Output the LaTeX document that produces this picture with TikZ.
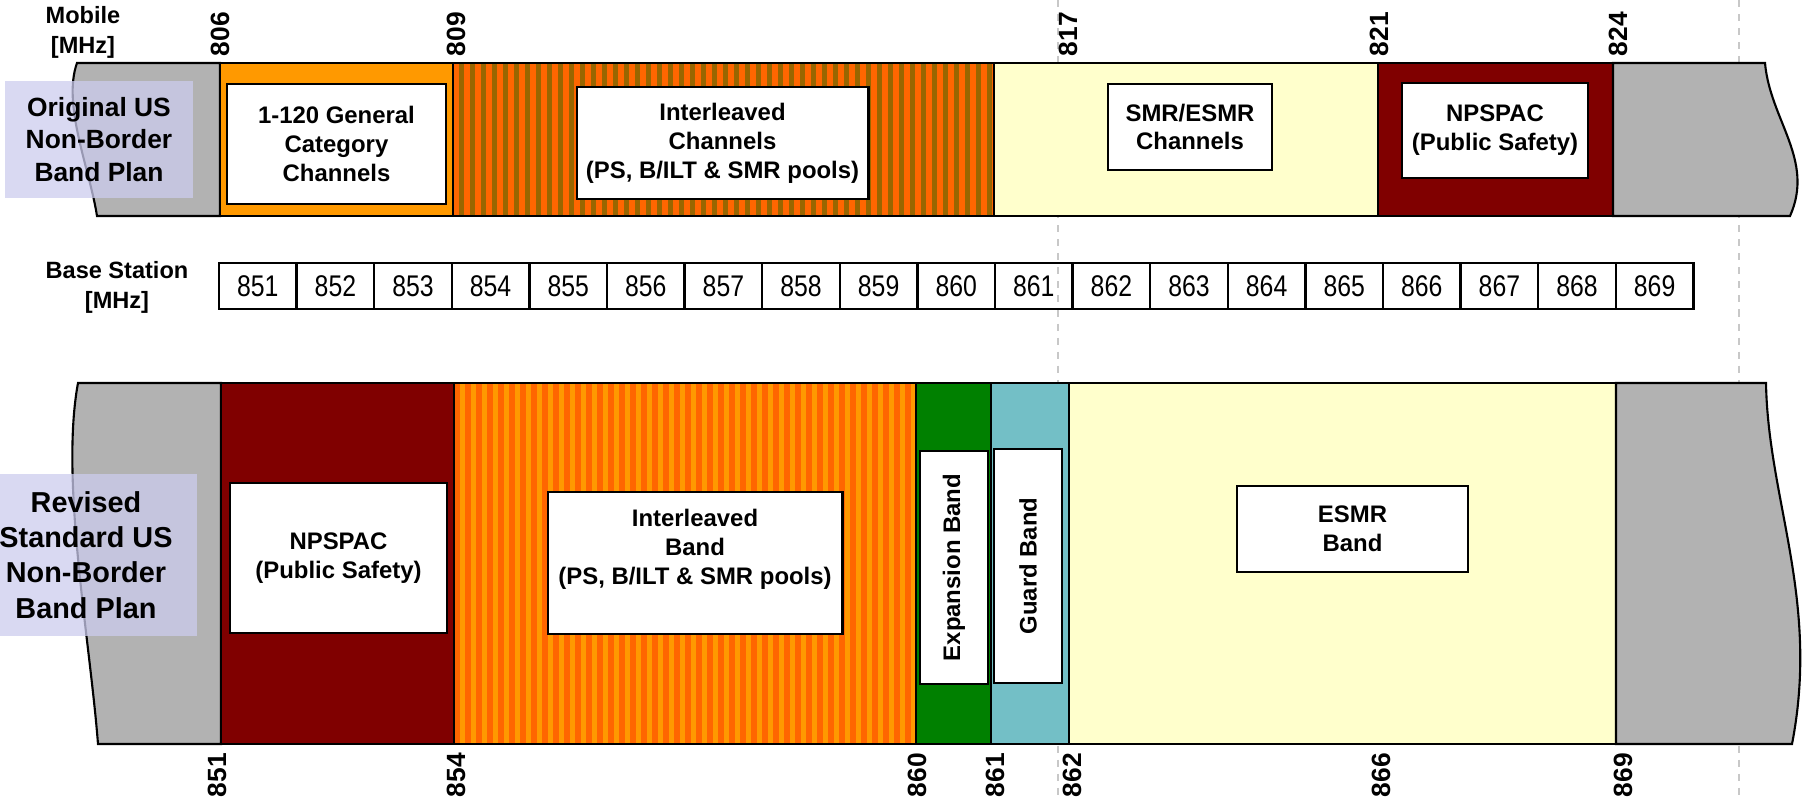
\documentclass[tikz,border=0pt]{standalone}
\usepackage{fontspec}
\setmainfont{Liberation Sans}
\newfontfamily\cellfont[FakeStretch=0.83]{Liberation Sans}
\usetikzlibrary{positioning}
\definecolor{bandgray}{RGB}{178,178,178}
\definecolor{catorange}{RGB}{255,153,0}
\definecolor{stripeorange}{RGB}{255,102,0}
\definecolor{stripebrown}{RGB}{153,102,0}
\definecolor{smryellow}{RGB}{255,255,204}
\definecolor{psred}{RGB}{128,0,0}
\definecolor{expgreen}{RGB}{0,128,0}
\definecolor{guardteal}{RGB}{115,191,198}
\definecolor{notelilac}{RGB}{204,204,238}
\definecolor{guidegray}{RGB}{200,200,200}
\tikzset{
  seg/.style={draw=black, line width=0.6pt},
  chanbox/.style={draw, fill=white, line width=0.8pt, align=center, inner sep=0pt, font=\bfseries\fontsize{6.8}{8.2}\selectfont},
  chantext/.style={align=center, inner sep=0pt, font=\bfseries\fontsize{6.8}{8.2}\selectfont},
  plannote/.style={fill=notelilac, fill opacity=0.75, text opacity=1, align=center, inner sep=0pt},
  freq/.style={rotate=90, inner sep=0pt, font=\bfseries\fontsize{7.5}{9}\selectfont},
  axislabel/.style={align=center, inner sep=0pt, font=\bfseries\fontsize{6.7}{8.5}\selectfont},
  cell/.style={draw, line width=0.7pt, minimum width=0.776cm, minimum height=0.46cm, inner sep=0pt, font=\cellfont\fontsize{8.5}{9}\selectfont},
  guide/.style={draw=guidegray, dash pattern=on 2pt off 2pt, line width=0.5pt}
}

\begin{document}
\begin{tikzpicture}[x=0.01cm, y=-0.01cm]
  \useasboundingbox (0,0) rectangle (1806,800);
  \draw[guide] (1058,0) -- (1058,800);
  \draw[guide] (1739,0) -- (1739,800);

  % original band plan
  \filldraw[seg, fill=bandgray] (220,63) -- (77,63) .. controls (62,105) and (90,170) .. (97,216) -- (220,216) -- cycle;
  \filldraw[seg, fill=catorange] (220,63) rectangle (453,216);
  \begin{scope}
    \clip (453,63) rectangle (994,216);
    \fill[stripeorange] (453,63) rectangle (994,216);
    \foreach \x in {458.5,469.5,...,994} \fill[stripebrown] (\x,63) rectangle ++(5.5,153);
  \end{scope}
  \draw[seg] (453,63) rectangle (994,216);
  \filldraw[seg, fill=smryellow] (994,63) rectangle (1378,216);
  \filldraw[seg, fill=psred] (1378,63) rectangle (1613,216);
  \filldraw[seg, fill=bandgray] (1613,63) -- (1765,63) .. controls (1770,120) and (1815,160) .. (1790,216) -- (1613,216) -- cycle;

  \node[chanbox, minimum width=2.19cm, minimum height=1.2cm] (gencat) at (336.5,144) {1-120 General\\Category\\Channels};
  \node[chanbox, minimum width=2.91cm, minimum height=1.12cm] (ilvtop) at (722.5,143) {Interleaved\\Channels\\(PS, B/ILT \& SMR pools)};
  \node[chanbox, minimum width=1.64cm, minimum height=0.86cm] (smrtop) at (1190,127) {SMR/ESMR\\Channels};
  \node[chanbox, minimum width=1.86cm, minimum height=0.95cm] (npstop) at (1495,130.5) {NPSPAC\\(Public Safety)};
  \node[plannote, minimum width=1.88cm, minimum height=1.17cm, font=\bfseries\fontsize{7.5}{9.3}\selectfont] (origplan) at (99,139.5) {Original US\\Non-Border\\Band Plan};

  % revised band plan
  \filldraw[seg, fill=bandgray] (221,383) -- (78,383) .. controls (60,480) and (90,640) .. (98,744) -- (221,744) -- cycle;
  \filldraw[seg, fill=psred] (221,383) rectangle (454,744);
  \begin{scope}
    \clip (454,383) rectangle (916,744);
    \fill[catorange] (454,383) rectangle (916,744);
    \foreach \x in {454,465,...,916} \fill[stripeorange] (\x,383) rectangle ++(5.5,361);
  \end{scope}
  \draw[seg] (454,383) rectangle (916,744);
  \filldraw[seg, fill=expgreen] (916,383) rectangle (991,744);
  \filldraw[seg, fill=guardteal] (991,383) rectangle (1069,744);
  \filldraw[seg, fill=smryellow] (1069,383) rectangle (1616,744);
  \filldraw[seg, fill=bandgray] (1616,383) -- (1766,383) .. controls (1768,500) and (1820,600) .. (1792,744) -- (1616,744) -- cycle;

  \node[chanbox, minimum width=2.17cm, minimum height=1.5cm] (npsbot) at (338.5,558) {NPSPAC\\(Public Safety)};
  \node[chanbox, minimum width=2.94cm, minimum height=1.42cm] (ilvbot) at (695,563) {};
  \node[chantext] (ilvbottxt) at (695,549) {Interleaved\\Band\\(PS, B/ILT \& SMR pools)};
  \node[chanbox, rotate=90, minimum width=2.33cm, minimum height=0.68cm] (expband) at (954,567.5) {Expansion Band};
  \node[chanbox, rotate=90, minimum width=2.34cm, minimum height=0.68cm] (guardband) at (1028,566) {Guard Band};
  \node[chanbox, minimum width=2.31cm, minimum height=0.86cm] (esmrbot) at (1352.5,529) {ESMR\\Band};
  \node[plannote, minimum width=2.22cm, minimum height=1.62cm, font=\bfseries\fontsize{8.2}{10}\selectfont] (revplan) at (86,555) {Revised\\Standard US\\Non-Border\\Band Plan};

  % frequency scales
  \node[axislabel] (mobilelbl) at (83,32) {Mobile\\{}[MHz]};
  \node[axislabel] (baselbl) at (117,287) {Base Station\\{}[MHz]};
  \foreach \f/\x in {806/220,809/456,817/1068,821/1379,824/1618}
    \node[freq] (mob\f) at (\x,34) {\f};
  \foreach \f/\x in {851/217,854/456,860/917,861/995,862/1072,866/1381,869/1623}
    \node[freq] (rev\f) at (\x,775) {\f};
  \foreach \f [count=\i from 0] in {851,...,869}
    \node[cell] (bs\f) at ({257.8+77.6*\i},286) {\f};
\end{tikzpicture}
\end{document}
